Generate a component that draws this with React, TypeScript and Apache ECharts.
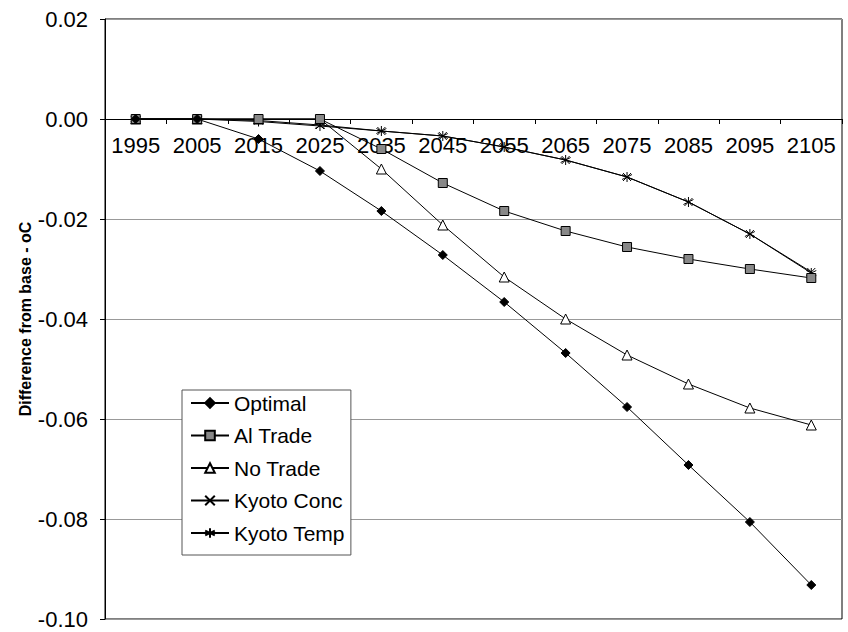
import React, { useEffect, useRef } from "react";
import * as echarts from "echarts";

const years = ["1995", "2005", "2015", "2025", "2035", "2045", "2055", "2065", "2075", "2085", "2095", "2105"];
const optimal = [0, 0, -0.004, -0.0104, -0.0184, -0.0272, -0.0366, -0.0468, -0.0576, -0.0692, -0.0806, -0.0932];
const alTrade = [0, 0, 0, 0, -0.006, -0.0128, -0.0184, -0.0224, -0.0256, -0.028, -0.030, -0.0318];
const noTrade = [0, 0, 0, 0, -0.010, -0.0212, -0.0316, -0.040, -0.0472, -0.053, -0.0578, -0.0612];
const kyotoConc = [0, 0, -0.0003, -0.0012, -0.0024, -0.0034, -0.0056, -0.0082, -0.0116, -0.0166, -0.023, -0.0306];
const kyotoTemp = [0, 0, -0.0005, -0.0014, -0.0024, -0.0034, -0.0056, -0.0082, -0.0116, -0.0166, -0.023, -0.0308];

const FONT = "'Liberation Sans', Arial, sans-serif";
const CROSS = "path://M0,0L10,10M10,0L0,10";
const STAR = "path://M5,0L5,10M0.7,2.5L9.3,7.5M0.7,7.5L9.3,2.5";

export default function App() {
  const ref = useRef<HTMLDivElement>(null);
  useEffect(() => {
    if (!ref.current) return;
    const chart = echarts.init(ref.current, undefined, { renderer: "svg" });
    const mk = (name: string, data: number[], symbol: string, size: number, fill: string) => ({
      name,
      type: "line",
      data,
      symbol,
      symbolSize: size,
      lineStyle: { color: "#000", width: 1 },
      itemStyle: { color: fill, borderColor: "#000", borderWidth: 1 },
      emphasis: { disabled: true },
    });
    chart.setOption({
      animation: false,
      textStyle: { fontFamily: FONT },
      grid: {
        left: 105,
        right: 6,
        top: 19,
        bottom: 13,
        containLabel: false,
        outerBoundsMode: "none",
        show: true,
        borderColor: "#000",
        borderWidth: 1,
      },
      legend: {
        orient: "vertical",
        left: 182,
        top: 390,
        itemWidth: 38,
        itemHeight: 12,
        itemGap: 8.5,
        padding: [1, 6, 10, 8],
        backgroundColor: "#fff",
        borderColor: "#555",
        borderWidth: 1,
        textStyle: { fontSize: 21, lineHeight: 24, color: "#000", fontFamily: FONT },
        data: ["Optimal", "Al Trade", "No Trade", "Kyoto Conc", "Kyoto Temp"],
      },
      xAxis: {
        type: "category",
        data: years,
        boundaryGap: true,
        position: "bottom",
        offset: -500,
        axisLine: { onZero: false, lineStyle: { color: "#000", width: 1 } },
        axisTick: { show: true, length: 5, lineStyle: { color: "#000" } },
        axisLabel: { color: "#000", fontSize: 22, fontFamily: FONT, margin: 15, interval: 0 },
        splitLine: { show: false },
      },
      yAxis: {
        type: "value",
        min: -0.1,
        max: 0.02,
        interval: 0.02,
        name: "Difference from base - oC",
        nameLocation: "middle",
        nameGap: 72,
        nameMoveOverlap: false,
        nameTextStyle: { fontSize: 16, fontWeight: "bold", color: "#000", fontFamily: FONT },
        axisLine: { show: true, lineStyle: { color: "#000" } },
        axisTick: { show: true, length: 5, lineStyle: { color: "#000" } },
        axisLabel: {
          color: "#000",
          fontSize: 22,
          fontFamily: FONT,
          margin: 17,
          formatter: (v: number) => (Math.abs(v) < 1e-9 ? "0.00" : v.toFixed(2)),
        },
        splitLine: { show: true, lineStyle: { color: "#999", width: 1 } },
      },
      series: [
        mk("Kyoto Conc", kyotoConc, CROSS, 8, "#000"),
        mk("Kyoto Temp", kyotoTemp, STAR, 10, "#000"),
        mk("No Trade", noTrade, "triangle", 10, "#fff"),
        mk("Al Trade", alTrade, "rect", 9, "#888"),
        mk("Optimal", optimal, "diamond", 9, "#000"),
      ],
    });
    return () => chart.dispose();
  }, []);
  return <div ref={ref} style={{ width: 848, height: 632, position: "absolute", left: 0, top: 0, background: "#fff" }} />;
}
